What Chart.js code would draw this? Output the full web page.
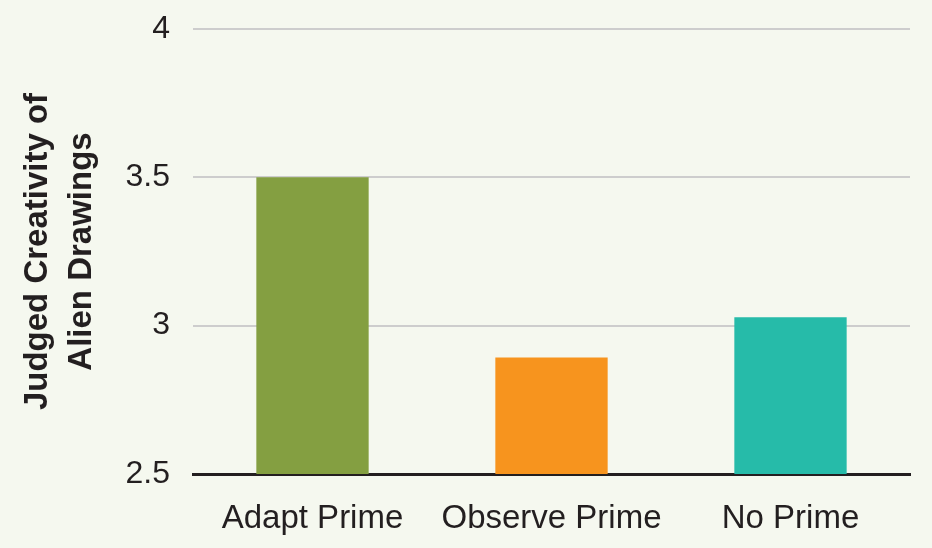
<!DOCTYPE HTML>
<html>
<head>
<title>Judged creativity of alien drawings</title>
<script src="https://cdn.jsdelivr.net/npm/chart.js@4.4.1/dist/chart.umd.min.js"></script>
<style>
    body {
        margin: 0;
        background-color: #f5f8ef;
    }
    #chartDiv {
        width: 932px;
        height: 548px;
    }
</style>
</head>
<body>

<div id="chartDiv">
    <canvas id="myChart" width="932" height="548"></canvas>
</div>

<script>

// data
var categories = ["Adapt Prime", "Observe Prime", "No Prime"];
var creativity = [3.5, 2.893, 3.028];
var barColours = ["#849f41", "#f7941e", "#26bba9"];
var yTitle = ["Judged Creativity of", "Alien Drawings"];
var yMin = 2.5;
var yMax = 4;
var yStep = 0.5;

var ink = '#231f20';

var ctx = document.getElementById('myChart').getContext('2d');

var chart = new Chart(ctx, {
    type: 'bar',
    data: {
        labels: categories,
        datasets: [{
            data: creativity,
            backgroundColor: barColours,
            borderWidth: 0,
            barPercentage: 0.47,
            categoryPercentage: 1
        }]
    },
    options: {
        responsive: false,
        animation: false,
        devicePixelRatio: 1,
        layout: {
            padding: { left: 0, right: 22, top: 29, bottom: 0 }
        },
        plugins: {
            legend: { display: false },
            tooltip: { enabled: false }
        },
        scales: {
            x: {
                grid: { display: false, drawTicks: false },
                border: { display: true, color: ink, width: 3 },
                ticks: {
                    color: ink,
                    padding: 25,
                    font: { family: "'Liberation Sans', Arial, sans-serif", size: 33 }
                },
                afterFit: function (scale) {
                    scale.height = 74;
                    scale.paddingLeft = 0;
                    scale.paddingRight = 0;
                }
            },
            y: {
                min: yMin,
                max: yMax,
                grid: { color: '#cdcdcd', lineWidth: 2, drawTicks: false },
                border: { display: false },
                ticks: {
                    stepSize: yStep,
                    color: ink,
                    padding: 23,
                    font: { family: "'Liberation Sans', Arial, sans-serif", size: 32 },
                    callback: function (value) {
                        return String(value);
                    }
                },
                title: {
                    display: true,
                    text: yTitle,
                    color: ink,
                    padding: { top: 16, bottom: 0 },
                    font: { family: "'Liberation Sans', Arial, sans-serif", size: 33, weight: 'bold', lineHeight: 1.33 }
                },
                afterFit: function (scale) {
                    scale.width = 193;
                    scale.paddingTop = 0;
                    scale.paddingBottom = 0;
                }
            }
        }
    }
});

</script>

</body>
</html>
